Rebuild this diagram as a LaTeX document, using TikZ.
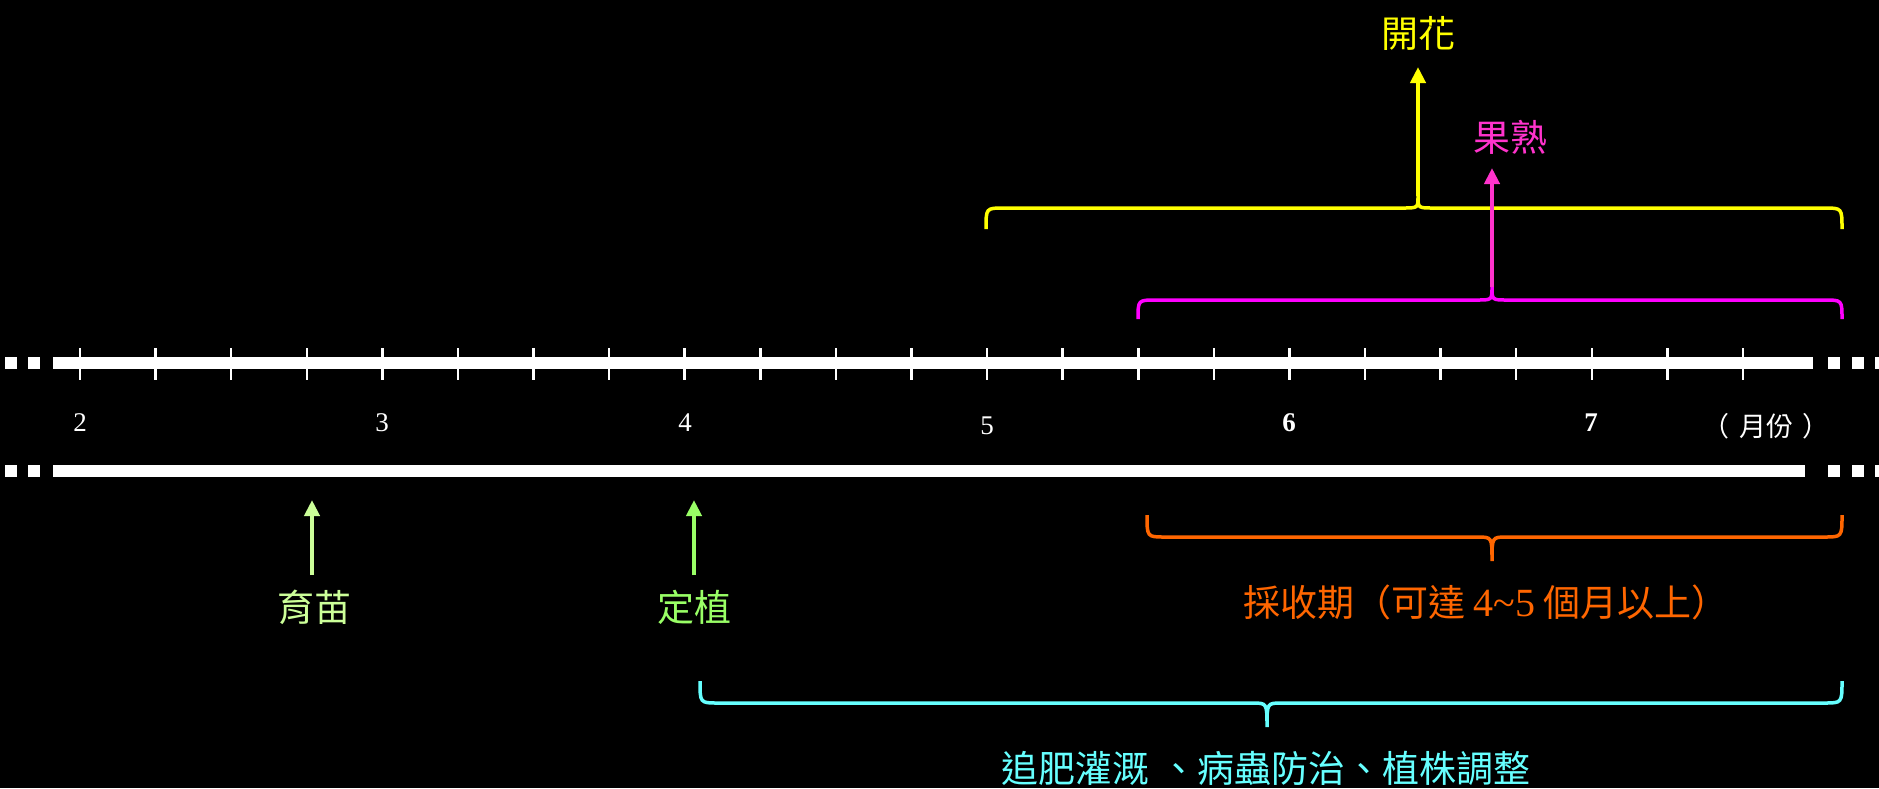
\documentclass[tikz,border=0pt]{standalone}
\usepackage{fontspec}
\setmainfont{Liberation Serif}
\newfontfamily\cjk{Noto Sans CJK TC}
\usetikzlibrary{arrows.meta}
\definecolor{cYel}{HTML}{FFFF00}
\definecolor{cMagB}{HTML}{FF00FF}
\definecolor{cMag}{HTML}{FF33CC}
\definecolor{cOra}{HTML}{FF6600}
\definecolor{cCya}{HTML}{66FFFF}
\definecolor{cLG}{HTML}{CCFF99}
\definecolor{cG}{HTML}{99FF66}
% brace: #1 left x, #2 right x, #3 tip x, #4 end y, #5 straight y, #6 tip y
\newcommand\mybracepath[6]{(#1,#4) .. controls (#1,#5) .. ({#1+18},#5) -- ({#3-15},#5) .. controls (#3,#5) .. (#3,#6) .. controls (#3,#5) .. ({#3+15},#5) -- ({#2-18},#5) .. controls (#2,#5) .. (#2,#4)}
\tikzset{
  bracestyle/.style={line width=3.5pt},
  evarrow/.style={line width=4pt, -{Triangle[width=15pt,length=16pt]}},
  lbl/.style={font=\cjk\fontsize{37}{40}\selectfont, inner sep=0pt},
  month/.style={font=\fontsize{27}{30}\selectfont, text=white, inner sep=0pt},
  bar/.style={white, line width=12pt},
  tick/.style={white, line width=2.5pt}
}
\begin{document}
\begin{tikzpicture}[x=1pt,y=-1pt]
\useasboundingbox (0,0) rectangle (1879,788);
\fill[black] (0,0) rectangle (1879,788);

% axis bars
\draw[bar] (53,363) -- (1813,363);
\draw[bar] (53,471) -- (1805,471);
\foreach \y in {363,471}{
  \foreach \x in {5,28,1828,1852,1875}{
    \fill[white] (\x,{\y-6}) rectangle ({\x+12},{\y+6});
  }
}
% ticks
\foreach \k in {0,...,22}{
  \draw[tick] ({80+75.59*\k},348) -- ({80+75.59*\k},380);
}
% month labels
\node[month] (m2) at (80,423) {2};
\node[month] (m3) at (382,423) {3};
\node[month] (m4) at (685,423) {4};
\node[month] (m5) at (987,426) {5};
\node[month] (m6) at (1289,423) {\bfseries 6};
\node[month] (m7) at (1591,423) {\bfseries 7};
\node[month, font=\cjk\fontsize{27}{30}\selectfont] (unit) at (1766,426) {（\hspace{0.35em}月份\hspace{0.35em}）};

% yellow brace: flowering
\draw[cYel, bracestyle] \mybracepath{986}{1842}{1418}{229}{208}{196};
\coordinate (ytip) at (1418,196);
\node[lbl, text=cYel] (kaihua) at (1418,33) {開花};
\coordinate (yarr) at (1418,67);
\draw[evarrow, cYel] (ytip) -- (yarr);

% magenta brace: fruiting
\draw[cMagB, bracestyle] \mybracepath{1138}{1842}{1492}{319}{300}{287};
\coordinate (mtip) at (1492,287);
\node[lbl, text=cMag] (guoshu) at (1510,137) {果熟};
\coordinate (marr) at (1492,168);
\draw[evarrow, cMag] (mtip) -- (marr);

% green arrows
\node[lbl, text=cLG] (yumiao) at (314,607) {育苗};
\coordinate (yumiaoT) at (312,500);
\coordinate (yumiaoB) at (312,575);
\draw[evarrow, cLG] (yumiaoB) -- (yumiaoT);
\node[lbl, text=cG] (dingzhi) at (694,607) {定植};
\coordinate (dingzhiT) at (694,500);
\coordinate (dingzhiB) at (694,575);
\draw[evarrow, cG] (dingzhiB) -- (dingzhiT);

% orange brace: harvest
\draw[cOra, bracestyle] \mybracepath{1147}{1842}{1492}{515}{537}{561};
\node[lbl, text=cOra] (harvest) at (1486,602) {採收期（可達 {\rmfamily\fontsize{40}{42}\selectfont 4\char`\~5} 個月以上）};

% cyan brace: management
\draw[cCya, bracestyle] \mybracepath{700}{1842}{1267}{681}{703}{727};
\node[lbl, text=cCya] (manage) at (1266,768) {追肥灌溉\;、病蟲防治、植株調整};
\end{tikzpicture}
\end{document}
